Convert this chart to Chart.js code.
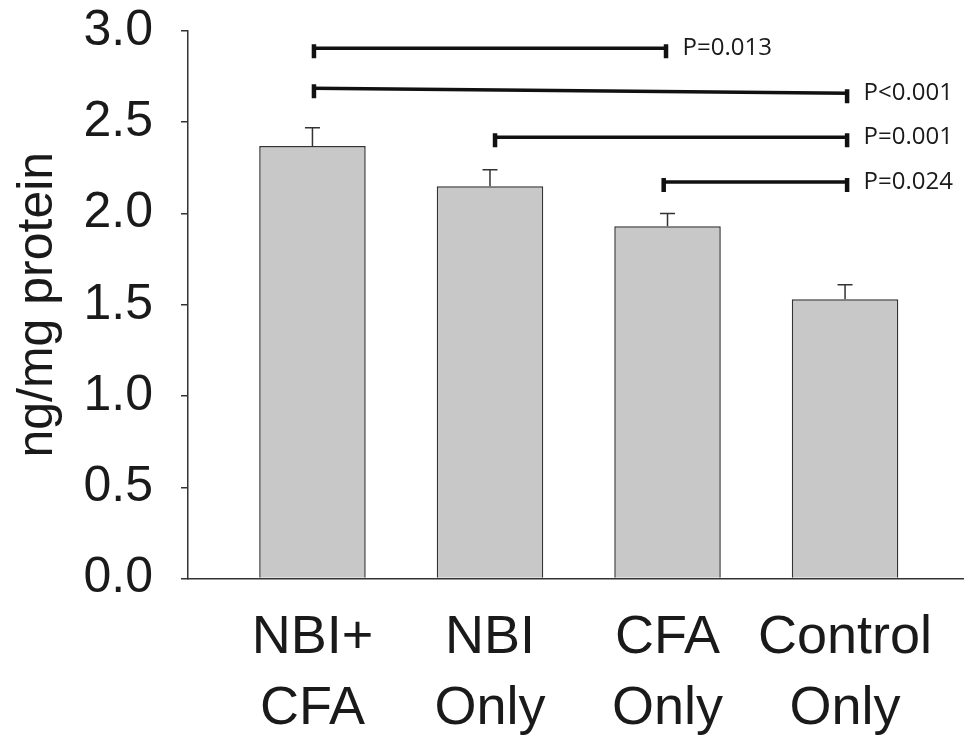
<!DOCTYPE html>
<html>
<head>
<meta charset="utf-8">
<script src="https://cdn.jsdelivr.net/npm/chart.js@4.4.1/dist/chart.umd.min.js"></script>
<style>
  html, body { margin: 0; padding: 0; background: #fff; }
  #wrap { width: 964px; height: 736px; }
</style>
</head>
<body>
<div id="wrap"><canvas id="chart"></canvas></div>
<script>
// groups along the x axis (each label on two lines)
var groups = [['NBI+', 'CFA'], ['NBI', 'Only'], ['CFA', 'Only'], ['Control', 'Only']];
// mean ng/mg protein and upper error (SEM)
var means = [2.37, 2.15, 1.93, 1.53];
var errors = [0.10, 0.09, 0.07, 0.08];
// y axis ticks
var yTicks = [0, 0.5, 1.0, 1.5, 2.0, 2.5, 3.0];
// significance brackets: from group, to group, height at left/right end, label
var pFrom = [0, 0, 1.02, 1.97];
var pTo = [2, 3.02, 3.02, 3.02];
var pYLeft = [2.905, 2.686, 2.418, 2.172];
var pYRight = [2.905, 2.659, 2.418, 2.172];
var pLabels = ['P=0.013', 'P<0.001', 'P=0.001', 'P=0.024'];

var errorBars = {
    id: 'errorBars',
    afterDatasetsDraw: function (chart) {
        var ctx = chart.ctx;
        var y = chart.scales.y;
        var meta = chart.getDatasetMeta(0);
        ctx.save();
        ctx.strokeStyle = '#333';
        ctx.lineWidth = 1.5;
        meta.data.forEach(function (bar, i) {
            var top = y.getPixelForValue(means[i] + errors[i]);
            ctx.beginPath();
            ctx.moveTo(bar.x, bar.y);
            ctx.lineTo(bar.x, top);
            ctx.moveTo(bar.x - 7.5, top);
            ctx.lineTo(bar.x + 7.5, top);
            ctx.stroke();
        });
        ctx.restore();
    }
};

var brackets = {
    id: 'brackets',
    afterDraw: function (chart) {
        var ctx = chart.ctx;
        var x = chart.scales.x, y = chart.scales.y;
        ctx.save();
        ctx.strokeStyle = '#111';
        ctx.fillStyle = '#1a1a1a';
        ctx.font = '24px "Open Sans"';
        ctx.textBaseline = 'middle';
        ctx.textAlign = 'left';
        for (var i = 0; i < pLabels.length; i++) {
            var x1 = x.getPixelForValue(pFrom[i]);
            var x2 = x.getPixelForValue(pTo[i]);
            var y1 = y.getPixelForValue(pYLeft[i]);
            var y2 = y.getPixelForValue(pYRight[i]);
            ctx.lineWidth = 3.5;
            ctx.beginPath();
            ctx.moveTo(x1, y1);
            ctx.lineTo(x2, y2);
            ctx.stroke();
            ctx.lineWidth = 4.5;
            ctx.beginPath();
            ctx.moveTo(x1 + 1.5, y1 - 4);
            ctx.lineTo(x1 + 1.5, y1 + 10);
            ctx.moveTo(x2 - 1.5, y2 - 4);
            ctx.lineTo(x2 - 1.5, y2 + 10);
            ctx.stroke();
            ctx.fillText(pLabels[i], x2 + 15, y2);
        }
        ctx.restore();
    }
};

var ctx = document.getElementById('chart').getContext('2d');
var chart = new Chart(ctx, {
    type: 'bar',
    data: {
        datasets: [{
            data: means.map(function (m, i) { return { x: i, y: m }; }),
            backgroundColor: '#c8c8c8',
            borderColor: '#333',
            borderWidth: 1.5,
            categoryPercentage: 1,
            barPercentage: 0.6
        }]
    },
    options: {
        responsive: true,
        maintainAspectRatio: false,
        animation: false,
        layout: { padding: 0 },
        plugins: {
            legend: { display: false },
            tooltip: { enabled: false }
        },
        scales: {
            x: {
                type: 'linear',
                offset: false,
                min: -0.701,
                max: 3.67,
                afterBuildTicks: function (scale) {
                    scale.ticks = groups.map(function (g, i) { return { value: i }; });
                },
                afterFit: function (scale) { scale.height = 157.5; },
                grid: { display: false, drawTicks: false, offset: false },
                border: { display: true, color: '#333', width: 1.5 },
                ticks: {
                    padding: 24,
                    color: '#1a1a1a',
                    font: { family: '"Liberation Sans", Arial', size: 54, lineHeight: 1.31 },
                    maxRotation: 0,
                    autoSkip: false,
                    callback: function (v) { return groups[v]; }
                }
            },
            y: {
                min: 0,
                max: 3,
                afterBuildTicks: function (scale) {
                    scale.ticks = yTicks.map(function (v) { return { value: v }; });
                },
                afterFit: function (scale) {
                    scale.width = 188;
                    scale.paddingTop = 31;
                    scale.paddingBottom = 0;
                },
                grid: { drawOnChartArea: false, drawTicks: true, tickLength: 7, color: '#333', lineWidth: 1.5 },
                border: { display: true, color: '#333', width: 1.5 },
                ticks: {
                    padding: 28,
                    color: '#1a1a1a',
                    font: { family: '"Liberation Sans", Arial', size: 50 },
                    callback: function (v) { return v.toFixed(1); }
                },
                title: {
                    display: true,
                    text: 'ng/mg protein',
                    color: '#1a1a1a',
                    font: { family: '"Liberation Sans", Arial', size: 50, lineHeight: 1 },
                    padding: { top: 13, bottom: 0 }
                }
            }
        }
    },
    plugins: [errorBars, brackets]
});
</script>
</body>
</html>
